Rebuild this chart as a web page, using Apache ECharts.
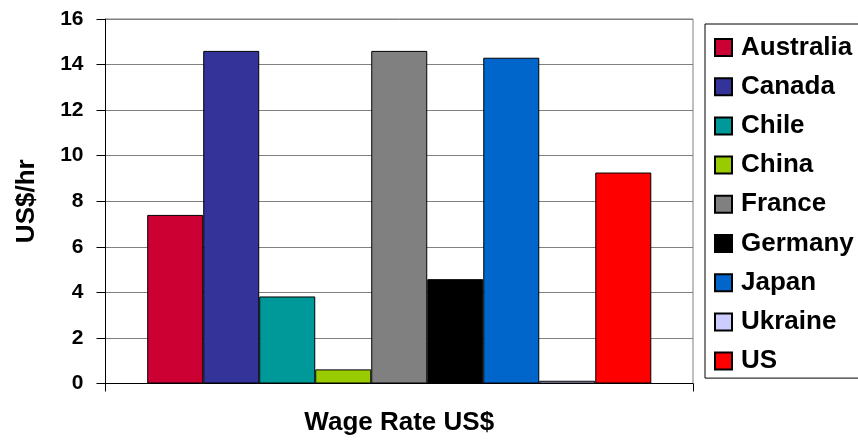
<!DOCTYPE html>
<html>
<head>
<meta charset="utf-8">
<script src="https://cdn.jsdelivr.net/npm/echarts@6/dist/echarts.min.js"></script>
<style>html,body{margin:0;padding:0;background:#fff;}#c{width:858px;height:444px;}</style>
</head>
<body>
<div id="c"></div>
<script>
const categories = ['Wage Rate US$'];
const countries = ['Australia','Canada','Chile','China','France','Germany','Japan','Ukraine','US'];
const wages = [7.4, 14.6, 3.82, 0.62, 14.6, 4.58, 14.3, 0.12, 9.26];
const colors = ['#CC0033','#333399','#009999','#99CC00','#808080','#000000','#0066CC','#CCCCFF','#FF0000'];
const yTicks = [0, 2, 4, 6, 8, 10, 12, 14, 16];

const FONT = '"Liberation Sans", Arial, sans-serif';
const chart = echarts.init(document.getElementById('c'), null, {renderer: 'canvas'});
chart.setOption({
  animation: false,
  backgroundColor: '#fff',
  grid: {left: 105.5, right: 165, top: 19, bottom: 60.5, show: true, borderColor: '#808080', borderWidth: 1, backgroundColor: 'transparent'},
  legend: {
    orient: 'vertical', left: 705, top: 24,
    padding: [10.5, 30, 4, 9],
    itemWidth: 17, itemHeight: 17, itemGap: 13.2,
    borderColor: '#000', borderWidth: 1,
    icon: 'rect',
    textStyle: {fontFamily: FONT, fontWeight: 'bold', fontSize: 26, color: '#000', padding: [0,0,0,4]},
    data: countries
  },
  xAxis: {
    type: 'category', data: categories,
    axisLine: {lineStyle: {color: '#000', width: 1}},
    axisTick: {show: true, length: 8, lineStyle: {color: '#000'}},
    axisLabel: {fontFamily: FONT, fontWeight: 'bold', fontSize: 26, color: '#000', margin: 26}
  },
  yAxis: {
    type: 'value', min: 0, max: 16, interval: 2,
    name: 'US$/hr', nameLocation: 'middle', nameGap: 66, nameRotate: 90,
    nameTextStyle: {fontFamily: FONT, fontWeight: 'bold', fontSize: 26, color: '#000'},
    axisLine: {show: true, lineStyle: {color: '#000', width: 1}},
    axisTick: {show: true, length: 9, lineStyle: {color: '#000'}},
    axisLabel: {fontFamily: FONT, fontWeight: 'bold', fontSize: 21, color: '#000', margin: 22,
      formatter: v => yTicks.includes(v) ? String(v) : ''},
    splitLine: {show: true, lineStyle: {color: '#808080', width: 1}}
  },
  series: countries.map((name, i) => ({
    name: name, type: 'bar',
    data: [wages[i]],
    barGap: '0%', barCategoryGap: '14.2%',
    itemStyle: {color: colors[i], borderColor: '#000', borderWidth: 1}
  }))
});
</script>
</body>
</html>
